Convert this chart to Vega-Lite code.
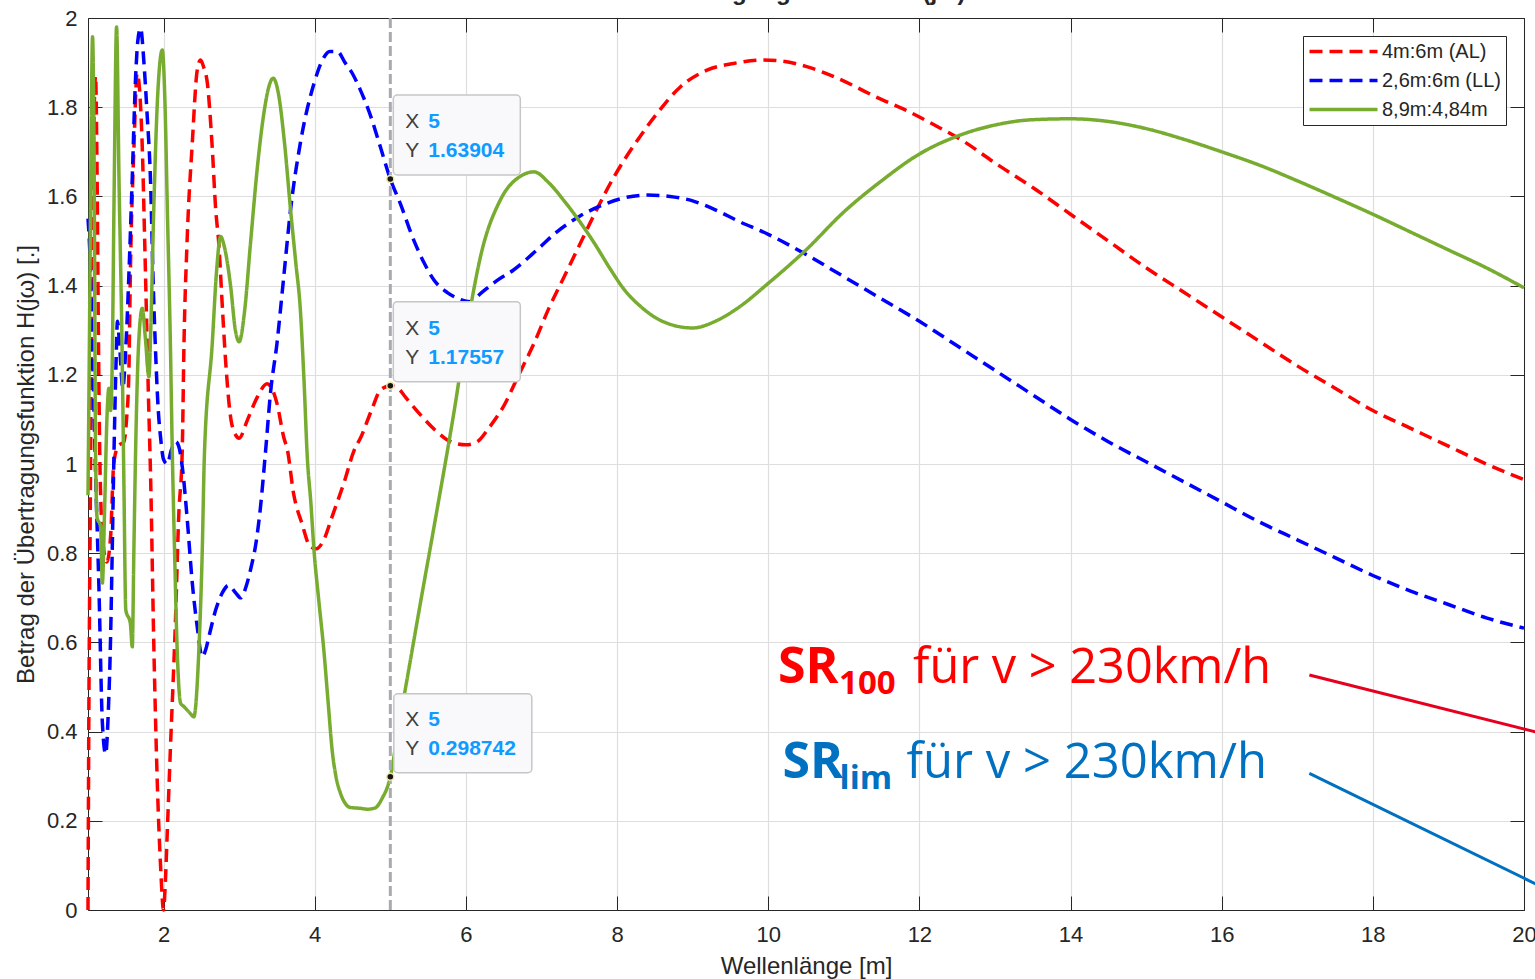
{
  "$schema": "https://vega.github.io/schema/vega-lite/v6.json",
  "width": 1436,
  "height": 892,
  "autosize": {"type": "none"},
  "padding": {"left": 88, "top": 18, "right": 11, "bottom": 69},
  "background": "white",
  "title": {"text": "Übertragungsfunktion H(jω)", "font": "Liberation Sans", "fontSize": 24, "fontWeight": "bold", "color": "#262626", "anchor": "middle", "offset": 0, "dy": 17, "baseline": "alphabetic"},
  "config": {"view": {"stroke": null}},
  "datasets": {
    "curves": [
      {"serie": "4m:6m (AL)", "x": 1.0, "y": 0.0},
      {"serie": "4m:6m (AL)", "x": 1.01, "y": 0.4},
      {"serie": "4m:6m (AL)", "x": 1.03, "y": 0.9},
      {"serie": "4m:6m (AL)", "x": 1.05, "y": 1.4},
      {"serie": "4m:6m (AL)", "x": 1.08, "y": 1.78},
      {"serie": "4m:6m (AL)", "x": 1.1, "y": 1.87},
      {"serie": "4m:6m (AL)", "x": 1.12, "y": 1.65},
      {"serie": "4m:6m (AL)", "x": 1.14, "y": 1.25},
      {"serie": "4m:6m (AL)", "x": 1.16, "y": 0.98},
      {"serie": "4m:6m (AL)", "x": 1.2, "y": 0.82},
      {"serie": "4m:6m (AL)", "x": 1.25, "y": 0.78},
      {"serie": "4m:6m (AL)", "x": 1.3, "y": 0.84},
      {"serie": "4m:6m (AL)", "x": 1.34, "y": 1.0},
      {"serie": "4m:6m (AL)", "x": 1.4, "y": 1.04},
      {"serie": "4m:6m (AL)", "x": 1.475, "y": 1.05},
      {"serie": "4m:6m (AL)", "x": 1.51, "y": 1.1},
      {"serie": "4m:6m (AL)", "x": 1.54, "y": 1.2},
      {"serie": "4m:6m (AL)", "x": 1.56, "y": 1.42},
      {"serie": "4m:6m (AL)", "x": 1.61, "y": 1.72},
      {"serie": "4m:6m (AL)", "x": 1.65, "y": 1.876},
      {"serie": "4m:6m (AL)", "x": 1.69, "y": 1.82},
      {"serie": "4m:6m (AL)", "x": 1.72, "y": 1.7},
      {"serie": "4m:6m (AL)", "x": 1.75, "y": 1.5},
      {"serie": "4m:6m (AL)", "x": 1.8, "y": 1.15},
      {"serie": "4m:6m (AL)", "x": 1.83, "y": 0.957},
      {"serie": "4m:6m (AL)", "x": 1.87, "y": 0.6},
      {"serie": "4m:6m (AL)", "x": 1.917, "y": 0.285},
      {"serie": "4m:6m (AL)", "x": 1.96, "y": 0.1},
      {"serie": "4m:6m (AL)", "x": 2.0, "y": 0.0},
      {"serie": "4m:6m (AL)", "x": 2.02, "y": 0.05},
      {"serie": "4m:6m (AL)", "x": 2.05, "y": 0.18},
      {"serie": "4m:6m (AL)", "x": 2.09, "y": 0.36},
      {"serie": "4m:6m (AL)", "x": 2.159, "y": 0.658},
      {"serie": "4m:6m (AL)", "x": 2.2, "y": 0.882},
      {"serie": "4m:6m (AL)", "x": 2.247, "y": 1.03},
      {"serie": "4m:6m (AL)", "x": 2.27, "y": 1.27},
      {"serie": "4m:6m (AL)", "x": 2.31, "y": 1.495},
      {"serie": "4m:6m (AL)", "x": 2.38, "y": 1.72},
      {"serie": "4m:6m (AL)", "x": 2.445, "y": 1.883},
      {"serie": "4m:6m (AL)", "x": 2.49, "y": 1.906},
      {"serie": "4m:6m (AL)", "x": 2.53, "y": 1.89},
      {"serie": "4m:6m (AL)", "x": 2.58, "y": 1.853},
      {"serie": "4m:6m (AL)", "x": 2.64, "y": 1.72},
      {"serie": "4m:6m (AL)", "x": 2.69, "y": 1.57},
      {"serie": "4m:6m (AL)", "x": 2.73, "y": 1.495},
      {"serie": "4m:6m (AL)", "x": 2.78, "y": 1.345},
      {"serie": "4m:6m (AL)", "x": 2.82, "y": 1.233},
      {"serie": "4m:6m (AL)", "x": 2.91, "y": 1.084},
      {"serie": "4m:6m (AL)", "x": 3.0, "y": 1.058},
      {"serie": "4m:6m (AL)", "x": 3.11, "y": 1.099},
      {"serie": "4m:6m (AL)", "x": 3.24, "y": 1.15},
      {"serie": "4m:6m (AL)", "x": 3.37, "y": 1.18},
      {"serie": "4m:6m (AL)", "x": 3.5, "y": 1.136},
      {"serie": "4m:6m (AL)", "x": 3.59, "y": 1.06},
      {"serie": "4m:6m (AL)", "x": 3.64, "y": 1.03},
      {"serie": "4m:6m (AL)", "x": 3.72, "y": 0.934},
      {"serie": "4m:6m (AL)", "x": 3.83, "y": 0.867},
      {"serie": "4m:6m (AL)", "x": 3.94, "y": 0.815},
      {"serie": "4m:6m (AL)", "x": 4.02, "y": 0.81},
      {"serie": "4m:6m (AL)", "x": 4.12, "y": 0.83},
      {"serie": "4m:6m (AL)", "x": 4.23, "y": 0.882},
      {"serie": "4m:6m (AL)", "x": 4.385, "y": 0.957},
      {"serie": "4m:6m (AL)", "x": 4.52, "y": 1.03},
      {"serie": "4m:6m (AL)", "x": 4.61, "y": 1.06},
      {"serie": "4m:6m (AL)", "x": 4.75, "y": 1.12},
      {"serie": "4m:6m (AL)", "x": 4.87, "y": 1.166},
      {"serie": "4m:6m (AL)", "x": 5.0, "y": 1.17557},
      {"serie": "4m:6m (AL)", "x": 5.1, "y": 1.17},
      {"serie": "4m:6m (AL)", "x": 5.2, "y": 1.15},
      {"serie": "4m:6m (AL)", "x": 5.4, "y": 1.11},
      {"serie": "4m:6m (AL)", "x": 5.6, "y": 1.075},
      {"serie": "4m:6m (AL)", "x": 5.8, "y": 1.05},
      {"serie": "4m:6m (AL)", "x": 6.0, "y": 1.043},
      {"serie": "4m:6m (AL)", "x": 6.15, "y": 1.05},
      {"serie": "4m:6m (AL)", "x": 6.3, "y": 1.08},
      {"serie": "4m:6m (AL)", "x": 6.5, "y": 1.13},
      {"serie": "4m:6m (AL)", "x": 6.7, "y": 1.2},
      {"serie": "4m:6m (AL)", "x": 6.9, "y": 1.27},
      {"serie": "4m:6m (AL)", "x": 7.1, "y": 1.35},
      {"serie": "4m:6m (AL)", "x": 7.3, "y": 1.42},
      {"serie": "4m:6m (AL)", "x": 7.5, "y": 1.49},
      {"serie": "4m:6m (AL)", "x": 7.7, "y": 1.56},
      {"serie": "4m:6m (AL)", "x": 7.96, "y": 1.644},
      {"serie": "4m:6m (AL)", "x": 8.27, "y": 1.726},
      {"serie": "4m:6m (AL)", "x": 8.53, "y": 1.786},
      {"serie": "4m:6m (AL)", "x": 8.84, "y": 1.846},
      {"serie": "4m:6m (AL)", "x": 9.19, "y": 1.883},
      {"serie": "4m:6m (AL)", "x": 9.54, "y": 1.898},
      {"serie": "4m:6m (AL)", "x": 9.94, "y": 1.906},
      {"serie": "4m:6m (AL)", "x": 10.16, "y": 1.904},
      {"serie": "4m:6m (AL)", "x": 10.51, "y": 1.891},
      {"serie": "4m:6m (AL)", "x": 10.82, "y": 1.872},
      {"serie": "4m:6m (AL)", "x": 11.13, "y": 1.848},
      {"serie": "4m:6m (AL)", "x": 11.4, "y": 1.825},
      {"serie": "4m:6m (AL)", "x": 11.8, "y": 1.795},
      {"serie": "4m:6m (AL)", "x": 12.2, "y": 1.76},
      {"serie": "4m:6m (AL)", "x": 12.6, "y": 1.722},
      {"serie": "4m:6m (AL)", "x": 13.0, "y": 1.675},
      {"serie": "4m:6m (AL)", "x": 13.5, "y": 1.62},
      {"serie": "4m:6m (AL)", "x": 14.0, "y": 1.56},
      {"serie": "4m:6m (AL)", "x": 14.5, "y": 1.5},
      {"serie": "4m:6m (AL)", "x": 15.0, "y": 1.44},
      {"serie": "4m:6m (AL)", "x": 15.5, "y": 1.385},
      {"serie": "4m:6m (AL)", "x": 16.0, "y": 1.33},
      {"serie": "4m:6m (AL)", "x": 16.5, "y": 1.275},
      {"serie": "4m:6m (AL)", "x": 17.0, "y": 1.22},
      {"serie": "4m:6m (AL)", "x": 17.5, "y": 1.17},
      {"serie": "4m:6m (AL)", "x": 18.0, "y": 1.12},
      {"serie": "4m:6m (AL)", "x": 18.5, "y": 1.08},
      {"serie": "4m:6m (AL)", "x": 19.0, "y": 1.04},
      {"serie": "4m:6m (AL)", "x": 19.5, "y": 1.0},
      {"serie": "4m:6m (AL)", "x": 20.0, "y": 0.965},
      {"serie": "2,6m:6m (LL)", "x": 1.0, "y": 1.55},
      {"serie": "2,6m:6m (LL)", "x": 1.03, "y": 1.45},
      {"serie": "2,6m:6m (LL)", "x": 1.06, "y": 1.25},
      {"serie": "2,6m:6m (LL)", "x": 1.1, "y": 0.98},
      {"serie": "2,6m:6m (LL)", "x": 1.145, "y": 0.72},
      {"serie": "2,6m:6m (LL)", "x": 1.19, "y": 0.42},
      {"serie": "2,6m:6m (LL)", "x": 1.233, "y": 0.35},
      {"serie": "2,6m:6m (LL)", "x": 1.27, "y": 0.45},
      {"serie": "2,6m:6m (LL)", "x": 1.3, "y": 0.62},
      {"serie": "2,6m:6m (LL)", "x": 1.32, "y": 0.8},
      {"serie": "2,6m:6m (LL)", "x": 1.34, "y": 0.99},
      {"serie": "2,6m:6m (LL)", "x": 1.37, "y": 1.22},
      {"serie": "2,6m:6m (LL)", "x": 1.39, "y": 1.32},
      {"serie": "2,6m:6m (LL)", "x": 1.42, "y": 1.26},
      {"serie": "2,6m:6m (LL)", "x": 1.46, "y": 1.17},
      {"serie": "2,6m:6m (LL)", "x": 1.5, "y": 1.26},
      {"serie": "2,6m:6m (LL)", "x": 1.54, "y": 1.42},
      {"serie": "2,6m:6m (LL)", "x": 1.586, "y": 1.644},
      {"serie": "2,6m:6m (LL)", "x": 1.63, "y": 1.868},
      {"serie": "2,6m:6m (LL)", "x": 1.66, "y": 1.95},
      {"serie": "2,6m:6m (LL)", "x": 1.696, "y": 1.977},
      {"serie": "2,6m:6m (LL)", "x": 1.74, "y": 1.9},
      {"serie": "2,6m:6m (LL)", "x": 1.78, "y": 1.79},
      {"serie": "2,6m:6m (LL)", "x": 1.83, "y": 1.62},
      {"serie": "2,6m:6m (LL)", "x": 1.86, "y": 1.42},
      {"serie": "2,6m:6m (LL)", "x": 1.89, "y": 1.27},
      {"serie": "2,6m:6m (LL)", "x": 1.93, "y": 1.12},
      {"serie": "2,6m:6m (LL)", "x": 1.96, "y": 1.06},
      {"serie": "2,6m:6m (LL)", "x": 2.0, "y": 1.01},
      {"serie": "2,6m:6m (LL)", "x": 2.05, "y": 1.0},
      {"serie": "2,6m:6m (LL)", "x": 2.1, "y": 1.03},
      {"serie": "2,6m:6m (LL)", "x": 2.16, "y": 1.05},
      {"serie": "2,6m:6m (LL)", "x": 2.2, "y": 1.04},
      {"serie": "2,6m:6m (LL)", "x": 2.25, "y": 0.99},
      {"serie": "2,6m:6m (LL)", "x": 2.31, "y": 0.882},
      {"serie": "2,6m:6m (LL)", "x": 2.38, "y": 0.733},
      {"serie": "2,6m:6m (LL)", "x": 2.445, "y": 0.635},
      {"serie": "2,6m:6m (LL)", "x": 2.51, "y": 0.568},
      {"serie": "2,6m:6m (LL)", "x": 2.56, "y": 0.585},
      {"serie": "2,6m:6m (LL)", "x": 2.6, "y": 0.613},
      {"serie": "2,6m:6m (LL)", "x": 2.69, "y": 0.673},
      {"serie": "2,6m:6m (LL)", "x": 2.78, "y": 0.712},
      {"serie": "2,6m:6m (LL)", "x": 2.86, "y": 0.728},
      {"serie": "2,6m:6m (LL)", "x": 2.95, "y": 0.712},
      {"serie": "2,6m:6m (LL)", "x": 3.02, "y": 0.7},
      {"serie": "2,6m:6m (LL)", "x": 3.1, "y": 0.73},
      {"serie": "2,6m:6m (LL)", "x": 3.16, "y": 0.77},
      {"serie": "2,6m:6m (LL)", "x": 3.22, "y": 0.82},
      {"serie": "2,6m:6m (LL)", "x": 3.28, "y": 0.9},
      {"serie": "2,6m:6m (LL)", "x": 3.35, "y": 1.03},
      {"serie": "2,6m:6m (LL)", "x": 3.415, "y": 1.16},
      {"serie": "2,6m:6m (LL)", "x": 3.5, "y": 1.27},
      {"serie": "2,6m:6m (LL)", "x": 3.59, "y": 1.42},
      {"serie": "2,6m:6m (LL)", "x": 3.68, "y": 1.57},
      {"serie": "2,6m:6m (LL)", "x": 3.81, "y": 1.72},
      {"serie": "2,6m:6m (LL)", "x": 3.99, "y": 1.853},
      {"serie": "2,6m:6m (LL)", "x": 4.1, "y": 1.905},
      {"serie": "2,6m:6m (LL)", "x": 4.2, "y": 1.925},
      {"serie": "2,6m:6m (LL)", "x": 4.3, "y": 1.925},
      {"serie": "2,6m:6m (LL)", "x": 4.4, "y": 1.9},
      {"serie": "2,6m:6m (LL)", "x": 4.5, "y": 1.875},
      {"serie": "2,6m:6m (LL)", "x": 4.6, "y": 1.84},
      {"serie": "2,6m:6m (LL)", "x": 4.74, "y": 1.78},
      {"serie": "2,6m:6m (LL)", "x": 4.87, "y": 1.71},
      {"serie": "2,6m:6m (LL)", "x": 5.0, "y": 1.63904},
      {"serie": "2,6m:6m (LL)", "x": 5.13, "y": 1.585},
      {"serie": "2,6m:6m (LL)", "x": 5.31, "y": 1.502},
      {"serie": "2,6m:6m (LL)", "x": 5.45, "y": 1.45},
      {"serie": "2,6m:6m (LL)", "x": 5.575, "y": 1.413},
      {"serie": "2,6m:6m (LL)", "x": 5.75, "y": 1.385},
      {"serie": "2,6m:6m (LL)", "x": 5.885, "y": 1.372},
      {"serie": "2,6m:6m (LL)", "x": 6.06, "y": 1.364},
      {"serie": "2,6m:6m (LL)", "x": 6.2, "y": 1.383},
      {"serie": "2,6m:6m (LL)", "x": 6.4, "y": 1.41},
      {"serie": "2,6m:6m (LL)", "x": 6.63, "y": 1.435},
      {"serie": "2,6m:6m (LL)", "x": 6.94, "y": 1.48},
      {"serie": "2,6m:6m (LL)", "x": 7.2, "y": 1.52},
      {"serie": "2,6m:6m (LL)", "x": 7.5, "y": 1.555},
      {"serie": "2,6m:6m (LL)", "x": 7.8, "y": 1.58},
      {"serie": "2,6m:6m (LL)", "x": 8.1, "y": 1.597},
      {"serie": "2,6m:6m (LL)", "x": 8.4, "y": 1.603},
      {"serie": "2,6m:6m (LL)", "x": 8.7, "y": 1.6},
      {"serie": "2,6m:6m (LL)", "x": 9.0, "y": 1.59},
      {"serie": "2,6m:6m (LL)", "x": 9.3, "y": 1.57},
      {"serie": "2,6m:6m (LL)", "x": 9.6, "y": 1.545},
      {"serie": "2,6m:6m (LL)", "x": 10.0, "y": 1.515},
      {"serie": "2,6m:6m (LL)", "x": 10.5, "y": 1.47},
      {"serie": "2,6m:6m (LL)", "x": 11.0, "y": 1.42},
      {"serie": "2,6m:6m (LL)", "x": 11.5, "y": 1.37},
      {"serie": "2,6m:6m (LL)", "x": 12.0, "y": 1.32},
      {"serie": "2,6m:6m (LL)", "x": 12.5, "y": 1.265},
      {"serie": "2,6m:6m (LL)", "x": 13.0, "y": 1.21},
      {"serie": "2,6m:6m (LL)", "x": 13.5, "y": 1.155},
      {"serie": "2,6m:6m (LL)", "x": 14.0, "y": 1.1},
      {"serie": "2,6m:6m (LL)", "x": 14.5, "y": 1.05},
      {"serie": "2,6m:6m (LL)", "x": 15.0, "y": 1.005},
      {"serie": "2,6m:6m (LL)", "x": 15.5, "y": 0.96},
      {"serie": "2,6m:6m (LL)", "x": 16.0, "y": 0.915},
      {"serie": "2,6m:6m (LL)", "x": 16.5, "y": 0.87},
      {"serie": "2,6m:6m (LL)", "x": 17.0, "y": 0.83},
      {"serie": "2,6m:6m (LL)", "x": 17.5, "y": 0.79},
      {"serie": "2,6m:6m (LL)", "x": 18.0, "y": 0.75},
      {"serie": "2,6m:6m (LL)", "x": 18.5, "y": 0.715},
      {"serie": "2,6m:6m (LL)", "x": 19.0, "y": 0.685},
      {"serie": "2,6m:6m (LL)", "x": 19.5, "y": 0.655},
      {"serie": "2,6m:6m (LL)", "x": 20.0, "y": 0.632},
      {"serie": "8,9m:4,84m", "x": 1.0, "y": 0.93},
      {"serie": "8,9m:4,84m", "x": 1.02, "y": 1.3},
      {"serie": "8,9m:4,84m", "x": 1.045, "y": 1.8},
      {"serie": "8,9m:4,84m", "x": 1.06, "y": 1.958},
      {"serie": "8,9m:4,84m", "x": 1.08, "y": 1.7},
      {"serie": "8,9m:4,84m", "x": 1.1, "y": 1.03},
      {"serie": "8,9m:4,84m", "x": 1.12, "y": 0.88},
      {"serie": "8,9m:4,84m", "x": 1.167, "y": 0.86},
      {"serie": "8,9m:4,84m", "x": 1.19, "y": 0.733},
      {"serie": "8,9m:4,84m", "x": 1.22, "y": 0.9},
      {"serie": "8,9m:4,84m", "x": 1.25, "y": 1.1},
      {"serie": "8,9m:4,84m", "x": 1.277, "y": 1.17},
      {"serie": "8,9m:4,84m", "x": 1.3, "y": 1.12},
      {"serie": "8,9m:4,84m", "x": 1.32, "y": 1.22},
      {"serie": "8,9m:4,84m", "x": 1.345, "y": 1.6},
      {"serie": "8,9m:4,84m", "x": 1.378, "y": 1.98},
      {"serie": "8,9m:4,84m", "x": 1.41, "y": 1.64},
      {"serie": "8,9m:4,84m", "x": 1.45, "y": 1.27},
      {"serie": "8,9m:4,84m", "x": 1.475, "y": 0.957},
      {"serie": "8,9m:4,84m", "x": 1.5, "y": 0.673},
      {"serie": "8,9m:4,84m", "x": 1.56, "y": 0.643},
      {"serie": "8,9m:4,84m", "x": 1.586, "y": 0.59},
      {"serie": "8,9m:4,84m", "x": 1.607, "y": 0.807},
      {"serie": "8,9m:4,84m", "x": 1.63, "y": 1.03},
      {"serie": "8,9m:4,84m", "x": 1.67, "y": 1.27},
      {"serie": "8,9m:4,84m", "x": 1.718, "y": 1.349},
      {"serie": "8,9m:4,84m", "x": 1.76, "y": 1.28},
      {"serie": "8,9m:4,84m", "x": 1.806, "y": 1.196},
      {"serie": "8,9m:4,84m", "x": 1.83, "y": 1.3},
      {"serie": "8,9m:4,84m", "x": 1.87, "y": 1.57},
      {"serie": "8,9m:4,84m", "x": 1.92, "y": 1.82},
      {"serie": "8,9m:4,84m", "x": 1.983, "y": 1.928},
      {"serie": "8,9m:4,84m", "x": 2.02, "y": 1.8},
      {"serie": "8,9m:4,84m", "x": 2.05, "y": 1.57},
      {"serie": "8,9m:4,84m", "x": 2.09, "y": 1.27},
      {"serie": "8,9m:4,84m", "x": 2.115, "y": 1.03},
      {"serie": "8,9m:4,84m", "x": 2.145, "y": 0.807},
      {"serie": "8,9m:4,84m", "x": 2.18, "y": 0.583},
      {"serie": "8,9m:4,84m", "x": 2.225, "y": 0.464},
      {"serie": "8,9m:4,84m", "x": 2.27, "y": 0.456},
      {"serie": "8,9m:4,84m", "x": 2.357, "y": 0.44},
      {"serie": "8,9m:4,84m", "x": 2.4, "y": 0.433},
      {"serie": "8,9m:4,84m", "x": 2.467, "y": 0.583},
      {"serie": "8,9m:4,84m", "x": 2.512, "y": 0.807},
      {"serie": "8,9m:4,84m", "x": 2.54, "y": 1.02},
      {"serie": "8,9m:4,84m", "x": 2.644, "y": 1.27},
      {"serie": "8,9m:4,84m", "x": 2.7, "y": 1.43},
      {"serie": "8,9m:4,84m", "x": 2.754, "y": 1.51},
      {"serie": "8,9m:4,84m", "x": 2.8, "y": 1.49},
      {"serie": "8,9m:4,84m", "x": 2.886, "y": 1.4},
      {"serie": "8,9m:4,84m", "x": 2.95, "y": 1.3},
      {"serie": "8,9m:4,84m", "x": 3.0, "y": 1.274},
      {"serie": "8,9m:4,84m", "x": 3.07, "y": 1.34},
      {"serie": "8,9m:4,84m", "x": 3.15, "y": 1.495},
      {"serie": "8,9m:4,84m", "x": 3.25, "y": 1.68},
      {"serie": "8,9m:4,84m", "x": 3.33, "y": 1.79},
      {"serie": "8,9m:4,84m", "x": 3.4, "y": 1.85},
      {"serie": "8,9m:4,84m", "x": 3.45, "y": 1.865},
      {"serie": "8,9m:4,84m", "x": 3.52, "y": 1.83},
      {"serie": "8,9m:4,84m", "x": 3.6, "y": 1.72},
      {"serie": "8,9m:4,84m", "x": 3.68, "y": 1.57},
      {"serie": "8,9m:4,84m", "x": 3.75, "y": 1.45},
      {"serie": "8,9m:4,84m", "x": 3.81, "y": 1.345},
      {"serie": "8,9m:4,84m", "x": 3.86, "y": 1.18},
      {"serie": "8,9m:4,84m", "x": 3.9, "y": 1.02},
      {"serie": "8,9m:4,84m", "x": 3.95, "y": 0.91},
      {"serie": "8,9m:4,84m", "x": 3.99, "y": 0.807},
      {"serie": "8,9m:4,84m", "x": 4.05, "y": 0.7},
      {"serie": "8,9m:4,84m", "x": 4.12, "y": 0.583},
      {"serie": "8,9m:4,84m", "x": 4.18, "y": 0.46},
      {"serie": "8,9m:4,84m", "x": 4.23, "y": 0.359},
      {"serie": "8,9m:4,84m", "x": 4.28, "y": 0.3},
      {"serie": "8,9m:4,84m", "x": 4.34, "y": 0.262},
      {"serie": "8,9m:4,84m", "x": 4.4, "y": 0.24},
      {"serie": "8,9m:4,84m", "x": 4.47, "y": 0.23},
      {"serie": "8,9m:4,84m", "x": 4.6, "y": 0.228},
      {"serie": "8,9m:4,84m", "x": 4.7, "y": 0.226},
      {"serie": "8,9m:4,84m", "x": 4.8, "y": 0.229},
      {"serie": "8,9m:4,84m", "x": 4.9, "y": 0.253},
      {"serie": "8,9m:4,84m", "x": 4.96, "y": 0.275},
      {"serie": "8,9m:4,84m", "x": 5.0, "y": 0.298742},
      {"serie": "8,9m:4,84m", "x": 5.1, "y": 0.4},
      {"serie": "8,9m:4,84m", "x": 5.22, "y": 0.516},
      {"serie": "8,9m:4,84m", "x": 5.4, "y": 0.69},
      {"serie": "8,9m:4,84m", "x": 5.6, "y": 0.88},
      {"serie": "8,9m:4,84m", "x": 5.84, "y": 1.114},
      {"serie": "8,9m:4,84m", "x": 6.06, "y": 1.35},
      {"serie": "8,9m:4,84m", "x": 6.2, "y": 1.47},
      {"serie": "8,9m:4,84m", "x": 6.45, "y": 1.59},
      {"serie": "8,9m:4,84m", "x": 6.72, "y": 1.645},
      {"serie": "8,9m:4,84m", "x": 6.9, "y": 1.655},
      {"serie": "8,9m:4,84m", "x": 7.1, "y": 1.63},
      {"serie": "8,9m:4,84m", "x": 7.3, "y": 1.59},
      {"serie": "8,9m:4,84m", "x": 7.5, "y": 1.545},
      {"serie": "8,9m:4,84m", "x": 7.7, "y": 1.495},
      {"serie": "8,9m:4,84m", "x": 7.9, "y": 1.44},
      {"serie": "8,9m:4,84m", "x": 8.1, "y": 1.39},
      {"serie": "8,9m:4,84m", "x": 8.3, "y": 1.355},
      {"serie": "8,9m:4,84m", "x": 8.6, "y": 1.32},
      {"serie": "8,9m:4,84m", "x": 9.0, "y": 1.305},
      {"serie": "8,9m:4,84m", "x": 9.3, "y": 1.32},
      {"serie": "8,9m:4,84m", "x": 9.6, "y": 1.35},
      {"serie": "8,9m:4,84m", "x": 10.0, "y": 1.405},
      {"serie": "8,9m:4,84m", "x": 10.5, "y": 1.48},
      {"serie": "8,9m:4,84m", "x": 11.0, "y": 1.565},
      {"serie": "8,9m:4,84m", "x": 11.5, "y": 1.635},
      {"serie": "8,9m:4,84m", "x": 12.0, "y": 1.695},
      {"serie": "8,9m:4,84m", "x": 12.5, "y": 1.735},
      {"serie": "8,9m:4,84m", "x": 13.0, "y": 1.76},
      {"serie": "8,9m:4,84m", "x": 13.5, "y": 1.772},
      {"serie": "8,9m:4,84m", "x": 14.0, "y": 1.774},
      {"serie": "8,9m:4,84m", "x": 14.5, "y": 1.768},
      {"serie": "8,9m:4,84m", "x": 15.0, "y": 1.752},
      {"serie": "8,9m:4,84m", "x": 15.5, "y": 1.728},
      {"serie": "8,9m:4,84m", "x": 16.0, "y": 1.7},
      {"serie": "8,9m:4,84m", "x": 16.5, "y": 1.67},
      {"serie": "8,9m:4,84m", "x": 17.0, "y": 1.635},
      {"serie": "8,9m:4,84m", "x": 17.5, "y": 1.598},
      {"serie": "8,9m:4,84m", "x": 18.0, "y": 1.56},
      {"serie": "8,9m:4,84m", "x": 18.5, "y": 1.52},
      {"serie": "8,9m:4,84m", "x": 19.0, "y": 1.48},
      {"serie": "8,9m:4,84m", "x": 19.5, "y": 1.44},
      {"serie": "8,9m:4,84m", "x": 20.0, "y": 1.395}
    ],
    "cursor": [{"x": 5}],
    "tips": [
      {"x": 5, "y": 1.63904, "label": "1.63904"},
      {"x": 5, "y": 1.17557, "label": "1.17557"},
      {"x": 5, "y": 0.298742, "label": "0.298742"}
    ],
    "notes": [
      {"id": "SR100", "x": 10.13, "y": 0.509, "main": "SR", "sub": "100", "rest": "für v > 230km/h", "x1": 17.16, "y1": 0.527, "x2": 20.16, "y2": 0.399},
      {"id": "SRlim", "x": 10.19, "y": 0.295, "main": "SR", "sub": "lim", "rest": "für v > 230km/h", "x1": 17.16, "y1": 0.3065, "x2": 20.16, "y2": 0.058}
    ]
  },
  "layer": [
    {
      "data": {"name": "curves"},
      "mark": {"type": "line", "strokeWidth": 3.5, "interpolate": "monotone", "strokeCap": "butt"},
      "encoding": {
        "x": {"field": "x", "type": "quantitative", "scale": {"domain": [1, 20], "nice": false, "zero": false},
          "axis": {"values": [2, 4, 6, 8, 10, 12, 14, 16, 18, 20], "format": "d", "grid": true, "gridColor": "#dedede", "gridWidth": 1.2, "tickSize": -14, "tickColor": "#262626", "domainColor": "#262626", "labelFontSize": 22, "labelFont": "Liberation Sans", "labelColor": "#262626", "labelPadding": 28, "labelFlush": false, "labelOverlap": false, "title": "Wellenlänge [m]", "titleFontSize": 24, "titleFont": "Liberation Sans", "titleFontWeight": "normal", "titleColor": "#262626", "titlePadding": 9}},
        "y": {"field": "y", "type": "quantitative", "scale": {"domain": [0, 2], "nice": false, "zero": false},
          "axis": {"values": [0, 0.2, 0.4, 0.6, 0.8, 1, 1.2, 1.4, 1.6, 1.8, 2], "format": "~g", "grid": true, "gridColor": "#dedede", "gridWidth": 1.2, "tickSize": -14, "tickColor": "#262626", "domainColor": "#262626", "labelFontSize": 22, "labelFont": "Liberation Sans", "labelColor": "#262626", "labelPadding": 25, "labelFlush": false, "labelOverlap": false, "title": "Betrag der Übertragungsfunktion H(jω) [.]", "titleFontSize": 24, "titleFont": "Liberation Sans", "titleFontWeight": "normal", "titleColor": "#262626", "titlePadding": 8}},
        "color": {"field": "serie", "type": "nominal", "sort": null, "scale": {"domain": ["4m:6m (AL)", "2,6m:6m (LL)", "8,9m:4,84m"], "range": ["#ff0000", "#0000ff", "#77ac30"]},
          "legend": {"title": null, "orient": "top-right", "offset": 18, "symbolType": "M-4,0H4", "symbolSize": 289, "symbolStrokeWidth": 3.5, "symbolOffset": 25, "labelOffset": 28, "labelFontSize": 20, "labelFont": "Liberation Sans", "labelColor": "#262626", "labelLimit": 400, "rowPadding": 8, "padding": 5, "strokeColor": "#262626", "fillColor": "white"}},
        "strokeDash": {"field": "serie", "type": "nominal", "sort": null, "scale": {"domain": ["4m:6m (AL)", "2,6m:6m (LL)", "8,9m:4,84m"], "range": [[13, 7], [13, 7], [1, 0]]},
          "legend": {"title": null, "orient": "top-right", "offset": 18, "symbolType": "M-4,0H4", "symbolSize": 289, "symbolStrokeWidth": 3.5, "symbolOffset": 25, "labelOffset": 28, "labelFontSize": 20, "labelFont": "Liberation Sans", "labelColor": "#262626", "labelLimit": 400, "rowPadding": 8, "padding": 5, "strokeColor": "#262626", "fillColor": "white"}}
      }
    },
    {
      "data": {"name": "cursor"},
      "mark": {"type": "rule", "stroke": "#a7aab1", "strokeWidth": 3, "strokeDash": [10, 4]},
      "encoding": {
        "x": {"field": "x", "type": "quantitative", "scale": {"domain": [1, 20], "nice": false, "zero": false}, "axis": null}
      }
    },
    {
      "data": {"name": "tips"},
      "transform": [{"filter": "length(datum.label) < 8"}],
      "mark": {"type": "rect", "width": 127, "height": 80, "xOffset": 66.5, "yOffset": -44, "fill": "#f9f9fc", "stroke": "#c6c6c6", "strokeWidth": 1.5, "cornerRadius": 4},
      "encoding": {
        "x": {"field": "x", "type": "quantitative", "scale": {"domain": [1, 20], "nice": false, "zero": false}, "axis": null},
        "y": {"field": "y", "type": "quantitative", "scale": {"domain": [0, 2], "nice": false, "zero": false}, "axis": null}
      }
    },
    {
      "data": {"name": "tips"},
      "transform": [{"filter": "length(datum.label) >= 8"}],
      "mark": {"type": "rect", "width": 138, "height": 79, "xOffset": 72.5, "yOffset": -43.5, "fill": "#f9f9fc", "stroke": "#c6c6c6", "strokeWidth": 1.5, "cornerRadius": 4},
      "encoding": {
        "x": {"field": "x", "type": "quantitative", "scale": {"domain": [1, 20], "nice": false, "zero": false}, "axis": null},
        "y": {"field": "y", "type": "quantitative", "scale": {"domain": [0, 2], "nice": false, "zero": false}, "axis": null}
      }
    },
    {
      "data": {"name": "tips"},
      "mark": {"type": "text", "text": "X", "dx": 15, "dy": -57, "align": "left", "baseline": "middle", "font": "Liberation Sans", "fontSize": 21, "color": "#404040"},
      "encoding": {
        "x": {"field": "x", "type": "quantitative", "scale": {"domain": [1, 20], "nice": false, "zero": false}, "axis": null},
        "y": {"field": "y", "type": "quantitative", "scale": {"domain": [0, 2], "nice": false, "zero": false}, "axis": null}
      }
    },
    {
      "data": {"name": "tips"},
      "mark": {"type": "text", "dx": 38, "dy": -57, "align": "left", "baseline": "middle", "font": "Liberation Sans", "fontSize": 21, "fontWeight": "bold", "color": "#0f9bff"},
      "encoding": {
        "x": {"field": "x", "type": "quantitative", "scale": {"domain": [1, 20], "nice": false, "zero": false}, "axis": null},
        "y": {"field": "y", "type": "quantitative", "scale": {"domain": [0, 2], "nice": false, "zero": false}, "axis": null},
        "text": {"field": "x", "type": "quantitative", "format": "d"}
      }
    },
    {
      "data": {"name": "tips"},
      "mark": {"type": "text", "text": "Y", "dx": 15, "dy": -28, "align": "left", "baseline": "middle", "font": "Liberation Sans", "fontSize": 21, "color": "#404040"},
      "encoding": {
        "x": {"field": "x", "type": "quantitative", "scale": {"domain": [1, 20], "nice": false, "zero": false}, "axis": null},
        "y": {"field": "y", "type": "quantitative", "scale": {"domain": [0, 2], "nice": false, "zero": false}, "axis": null}
      }
    },
    {
      "data": {"name": "tips"},
      "mark": {"type": "text", "dx": 38, "dy": -28, "align": "left", "baseline": "middle", "font": "Liberation Sans", "fontSize": 21, "fontWeight": "bold", "color": "#0f9bff"},
      "encoding": {
        "x": {"field": "x", "type": "quantitative", "scale": {"domain": [1, 20], "nice": false, "zero": false}, "axis": null},
        "y": {"field": "y", "type": "quantitative", "scale": {"domain": [0, 2], "nice": false, "zero": false}, "axis": null},
        "text": {"field": "label", "type": "nominal"}
      }
    },
    {
      "data": {"name": "tips"},
      "mark": {"type": "point", "shape": "circle", "size": 50, "fill": "#151515", "filled": true, "stroke": "#efe7a8", "strokeWidth": 1.5, "opacity": 1},
      "encoding": {
        "x": {"field": "x", "type": "quantitative", "scale": {"domain": [1, 20], "nice": false, "zero": false},
          "axis": {"orient": "top", "values": [2, 4, 6, 8, 10, 12, 14, 16, 18, 20], "labels": false, "grid": false, "tickSize": -14, "tickColor": "#262626", "domainColor": "#262626", "title": null, "minExtent": 0, "maxExtent": 0}},
        "y": {"field": "y", "type": "quantitative", "scale": {"domain": [0, 2], "nice": false, "zero": false},
          "axis": {"orient": "right", "values": [0, 0.2, 0.4, 0.6, 0.8, 1, 1.2, 1.4, 1.6, 1.8, 2], "labels": false, "grid": false, "tickSize": -14, "tickColor": "#262626", "domainColor": "#262626", "title": null, "minExtent": 0, "maxExtent": 0}}
      }
    },
    {
      "data": {"name": "notes"},
      "transform": [{"filter": "datum.id == 'SR100'"}],
      "mark": {"type": "rule", "stroke": "#e6001e", "strokeWidth": 3, "clip": false},
      "encoding": {
        "x": {"field": "x1", "type": "quantitative", "scale": {"domain": [1, 20], "nice": false, "zero": false}, "axis": null},
        "y": {"field": "y1", "type": "quantitative", "scale": {"domain": [0, 2], "nice": false, "zero": false}, "axis": null},
        "x2": {"field": "x2"},
        "y2": {"field": "y2"}
      }
    },
    {
      "data": {"name": "notes"},
      "transform": [{"filter": "datum.id == 'SRlim'"}],
      "mark": {"type": "rule", "stroke": "#0070c0", "strokeWidth": 3, "clip": false},
      "encoding": {
        "x": {"field": "x1", "type": "quantitative", "scale": {"domain": [1, 20], "nice": false, "zero": false}, "axis": null},
        "y": {"field": "y1", "type": "quantitative", "scale": {"domain": [0, 2], "nice": false, "zero": false}, "axis": null},
        "x2": {"field": "x2"},
        "y2": {"field": "y2"}
      }
    },
    {
      "data": {"name": "notes"},
      "transform": [{"filter": "datum.id == 'SR100'"}],
      "mark": {"type": "text", "align": "left", "baseline": "alphabetic", "font": "Open Sans", "fontSize": 50, "fontWeight": "bold", "color": "#ff0000"},
      "encoding": {
        "x": {"field": "x", "type": "quantitative", "scale": {"domain": [1, 20], "nice": false, "zero": false}, "axis": null},
        "y": {"field": "y", "type": "quantitative", "scale": {"domain": [0, 2], "nice": false, "zero": false}, "axis": null},
        "text": {"field": "main", "type": "nominal"}
      }
    },
    {
      "data": {"name": "notes"},
      "transform": [{"filter": "datum.id == 'SR100'"}],
      "mark": {"type": "text", "align": "left", "baseline": "alphabetic", "dx": 61, "dy": 11, "font": "Open Sans", "fontSize": 33, "fontWeight": "bold", "color": "#ff0000"},
      "encoding": {
        "x": {"field": "x", "type": "quantitative", "scale": {"domain": [1, 20], "nice": false, "zero": false}, "axis": null},
        "y": {"field": "y", "type": "quantitative", "scale": {"domain": [0, 2], "nice": false, "zero": false}, "axis": null},
        "text": {"field": "sub", "type": "nominal"}
      }
    },
    {
      "data": {"name": "notes"},
      "transform": [{"filter": "datum.id == 'SR100'"}],
      "mark": {"type": "text", "align": "left", "baseline": "alphabetic", "dx": 135, "font": "Open Sans", "fontSize": 48.7, "color": "#ff0000"},
      "encoding": {
        "x": {"field": "x", "type": "quantitative", "scale": {"domain": [1, 20], "nice": false, "zero": false}, "axis": null},
        "y": {"field": "y", "type": "quantitative", "scale": {"domain": [0, 2], "nice": false, "zero": false}, "axis": null},
        "text": {"field": "rest", "type": "nominal"}
      }
    },
    {
      "data": {"name": "notes"},
      "transform": [{"filter": "datum.id == 'SRlim'"}],
      "mark": {"type": "text", "align": "left", "baseline": "alphabetic", "font": "Open Sans", "fontSize": 50, "fontWeight": "bold", "color": "#0070c0"},
      "encoding": {
        "x": {"field": "x", "type": "quantitative", "scale": {"domain": [1, 20], "nice": false, "zero": false}, "axis": null},
        "y": {"field": "y", "type": "quantitative", "scale": {"domain": [0, 2], "nice": false, "zero": false}, "axis": null},
        "text": {"field": "main", "type": "nominal"}
      }
    },
    {
      "data": {"name": "notes"},
      "transform": [{"filter": "datum.id == 'SRlim'"}],
      "mark": {"type": "text", "align": "left", "baseline": "alphabetic", "dx": 57, "dy": 11, "font": "Open Sans", "fontSize": 33, "fontWeight": "bold", "color": "#0070c0"},
      "encoding": {
        "x": {"field": "x", "type": "quantitative", "scale": {"domain": [1, 20], "nice": false, "zero": false}, "axis": null},
        "y": {"field": "y", "type": "quantitative", "scale": {"domain": [0, 2], "nice": false, "zero": false}, "axis": null},
        "text": {"field": "sub", "type": "nominal"}
      }
    },
    {
      "data": {"name": "notes"},
      "transform": [{"filter": "datum.id == 'SRlim'"}],
      "mark": {"type": "text", "align": "left", "baseline": "alphabetic", "dx": 124, "font": "Open Sans", "fontSize": 49, "color": "#0070c0"},
      "encoding": {
        "x": {"field": "x", "type": "quantitative", "scale": {"domain": [1, 20], "nice": false, "zero": false}, "axis": null},
        "y": {"field": "y", "type": "quantitative", "scale": {"domain": [0, 2], "nice": false, "zero": false}, "axis": null},
        "text": {"field": "rest", "type": "nominal"}
      }
    }
  ],
  "resolve": {"axis": {"x": "independent", "y": "independent"}}
}
